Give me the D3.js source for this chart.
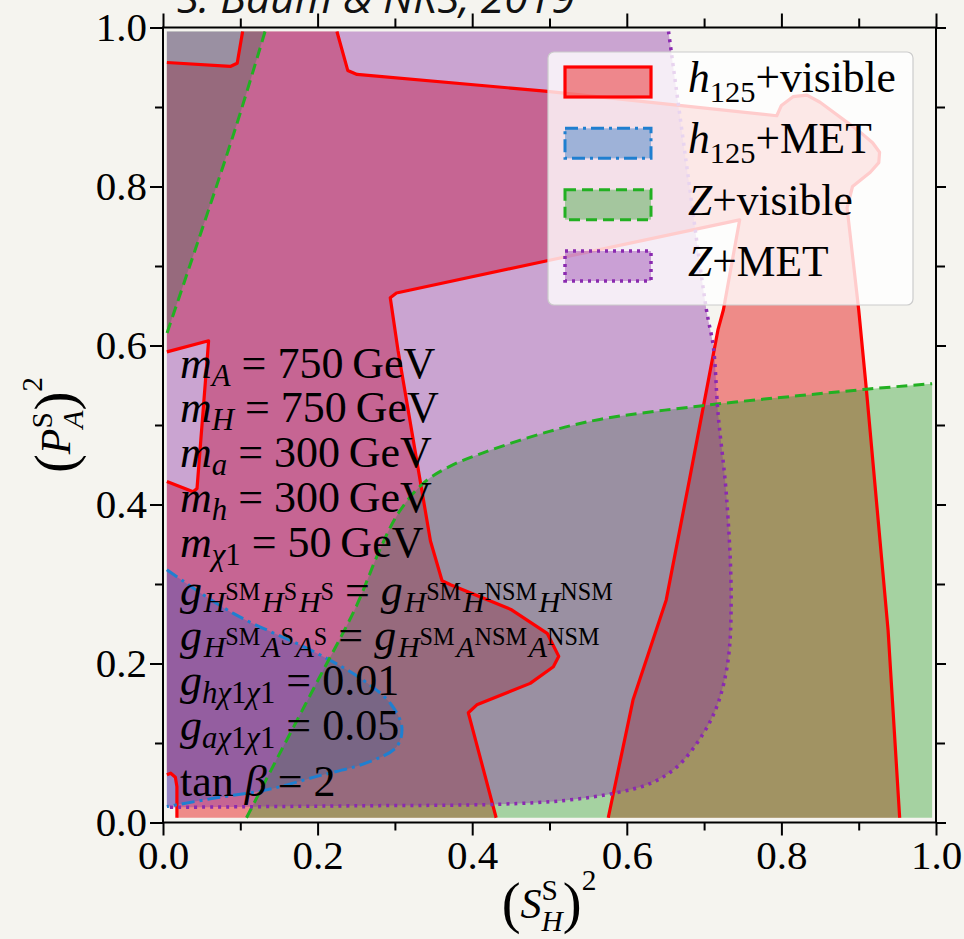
<!DOCTYPE html>
<html><head><meta charset="utf-8">
<script src="https://cdn.jsdelivr.net/npm/d3@7"></script>
<style>html,body{margin:0;padding:0;background:#f5f4ef;} svg{display:block} text{white-space:pre}</style>
</head><body><svg id="c" width="964" height="939"></svg>
<script>
// ---------- data ----------
const majorTicks = [0, 0.2, 0.4, 0.6, 0.8, 1.0];
const minorTicks = [0.1, 0.3, 0.5, 0.7, 0.9];
const tickLabels = ["0.0", "0.2", "0.4", "0.6", "0.8", "1.0"];

// h125 + visible (red) contour pieces, [x, y]
const redLineA = [[0.018,0.006],[0.018,0.045],[0.016,0.057],[0.010,0.062],[0.005,0.060]];
const redLineB = [[0.005,0.429],[0.039,0.416],[0.044,0.420],[0.059,0.606],[0.005,0.592]];
const redLineC = [[0.005,0.956],[0.087,0.951],[0.096,0.955],[0.103,0.995]];
const redLineD = [[0.225,0.995],[0.239,0.946],[0.251,0.941],[0.494,0.920],[0.794,0.889],[0.800,0.902],
  [0.815,0.913],[0.833,0.915],[0.850,0.906],[0.900,0.870],[0.918,0.855],[0.927,0.843],[0.926,0.830],
  [0.915,0.818],[0.892,0.800],[0.885,0.773],[0.900,0.645],[0.910,0.544],[0.938,0.242],[0.953,0.006]];
const redLineE = [[0.576,0.006],[0.608,0.154],[0.651,0.280],[0.681,0.431],[0.718,0.620],[0.725,0.645],
  [0.746,0.758],[0.494,0.706],[0.302,0.666],[0.294,0.660],[0.304,0.594],[0.346,0.354],[0.361,0.304],
  [0.372,0.299],[0.450,0.268],[0.497,0.238],[0.512,0.209],[0.505,0.196],[0.475,0.175],[0.406,0.148],
  [0.395,0.138],[0.431,0.006]];
// h125 + MET (blue)
const blueLine = [[0.005,0.318],[0.091,0.263],[0.199,0.213],[0.259,0.179],[0.294,0.150],[0.309,0.120],
  [0.302,0.095],[0.263,0.075],[0.199,0.058],[0.134,0.041],[0.069,0.031],[0.005,0.020]];
// Z + visible (green)
const greenLineA = [[0.132,0.995],[0.093,0.871],[0.005,0.615]];
const greenLineB = [[0.108,0.006],[0.150,0.085],[0.200,0.178],[0.250,0.272],[0.280,0.342],[0.305,0.390],
  [0.337,0.427],[0.371,0.448],[0.414,0.465],[0.500,0.492],[0.565,0.507],[0.695,0.524],[0.824,0.537],
  [0.910,0.545],[0.995,0.552]];
// Z + MET (purple)
const purpleLine = [[0.654,0.995],[0.680,0.808],[0.703,0.645],[0.712,0.598],[0.718,0.515],[0.729,0.410],
  [0.735,0.284],[0.731,0.204],[0.718,0.150],[0.699,0.112],[0.665,0.070],[0.630,0.049],[0.587,0.0375],
  [0.522,0.028],[0.436,0.023],[0.250,0.021],[0.005,0.019]];

const legendNames = ["h125+visible", "h125+MET", "Z+visible", "Z+MET"];

// ---------- setup ----------
const SERIF = "'Liberation Serif','Times New Roman',serif";
const svg = d3.select("#c");
const X0 = 163, X1 = 936, Y0 = 822.5, Y1 = 27.5;
const x = d3.scaleLinear().domain([0, 1]).range([X0, X1]);
const y = d3.scaleLinear().domain([0, 1]).range([Y0, Y1]);

svg.append("rect").attr("width", 964).attr("height", 939).attr("fill", "#f5f4ef");

svg.append("defs").append("clipPath").attr("id", "plotclip")
  .append("rect").attr("x", X0).attr("y", Y1).attr("width", X1 - X0).attr("height", Y0 - Y1);

const styles = {
  red:    {fill: "rgba(230,0,0,0.43)",     stroke: "#ff0000", dash: null,        w: 3.2},
  blue:   {fill: "rgba(31,110,190,0.40)",  stroke: "#1f7fd0", dash: "13,5,3,5",  w: 3},
  green:  {fill: "rgba(44,160,44,0.40)",   stroke: "#22b022", dash: "11,6",      w: 3},
  purple: {fill: "rgba(137,46,166,0.40)",  stroke: "#8a2ab0", dash: "3,5",       w: 3.5}
};

const lin = d3.line().x(d => x(d[0])).y(d => y(d[1]));
const smooth = d3.line().x(d => x(d[0])).y(d => y(d[1])).curve(d3.curveCatmullRom.alpha(0.5));
const corner = p => "L" + x(p[0]) + "," + y(p[1]);

const plot = svg.append("g").attr("clip-path", "url(#plotclip)");

// fills
const redFill = lin([...redLineD, ...redLineE, ...redLineA, ...redLineB, ...redLineC]) + "Z";
const blueFill = smooth(blueLine) + "Z";
const greenFillA = smooth(greenLineA) + corner([0.005, 0.995]) + "Z";
const greenFillB = smooth(greenLineB) + corner([0.995, 0.006]) + "Z";
const purpleFill = smooth(purpleLine) + corner([0.005, 0.995]) + "Z";

[[redFill, "red"], [blueFill, "blue"], [greenFillA, "green"], [greenFillB, "green"], [purpleFill, "purple"]]
  .forEach(([d, k]) => plot.append("path").attr("d", d).attr("fill", styles[k].fill).attr("stroke", "none"));

// contour lines
const lines = [
  [lin(redLineA), "red"], [lin(redLineB), "red"], [lin(redLineC), "red"], [lin(redLineD), "red"], [lin(redLineE), "red"],
  [smooth(blueLine), "blue"], [smooth(greenLineA), "green"], [smooth(greenLineB), "green"], [smooth(purpleLine), "purple"]
];
lines.forEach(([d, k]) => {
  const s = styles[k];
  plot.append("path").attr("d", d).attr("fill", "none").attr("stroke", s.stroke)
    .attr("stroke-width", s.w).attr("stroke-dasharray", s.dash).attr("stroke-linejoin", "round");
});

// ---------- math text helper ----------
function mathText(g, tx, ty, size, parts, anchor) {
  const t = g.append("text").attr("x", tx).attr("y", ty).attr("font-family", SERIF)
    .attr("font-size", size).attr("fill", "#000").attr("text-anchor", anchor || "start");
  let cur = 0, prevW = 0, pend = 0;
  parts.forEach(([txt, o]) => {
    o = o || {};
    const off = (o.o || 0) * size;
    const ts = t.append("tspan").text(txt).attr("font-size", size * (o.s || 1))
      .attr("font-style", o.i ? "italic" : "normal");
    ts.attr("dy", cur - off); cur = off;
    let dx = 0;
    if (o.back) dx = -prevW; else { dx = pend + (o.dx || 0) * size; pend = 0; }
    if (dx) ts.attr("dx", dx);
    const w = ts.node().getComputedTextLength();
    if (o.back) { pend = Math.max(0, prevW - w); }
    prevW = w;
  });
  return t;
}

// ---------- annotation ----------
const ann = svg.append("g");
const FS = 44;
const sub = {s: 0.7, o: -0.18};
const subI = {s: 0.7, o: -0.18, i: 1};
const subH = {s: 0.68, o: -0.16, i: 1, dx: 0.04};
const ssup = {s: 0.55, o: 0.12};
const annLines = [
  [378, [["m", {i: 1}], ["A", subI], [" = 750\u2009GeV"]]],
  [422, [["m", {i: 1}], ["H", subI], [" = 750\u2009GeV"]]],
  [467, [["m", {i: 1}], ["a", subI], [" = 300\u2009GeV"]]],
  [512, [["m", {i: 1}], ["h", subI], [" = 300\u2009GeV"]]],
  [557, [["m", {i: 1}], ["\u03c7", subI], ["1", sub], [" = 50\u2009GeV"]]],
  [605, [["g", {i: 1}], ["H", subH], ["SM", ssup], ["H", subH], ["S", ssup], ["H", subH], ["S", ssup],
         [" = "], ["g", {i: 1}], ["H", subH], ["SM", ssup], ["H", subH], ["NSM", ssup], ["H", subH], ["NSM", ssup]]],
  [650, [["g", {i: 1}], ["H", subH], ["SM", ssup], ["A", subH], ["S", ssup], ["A", subH], ["S", ssup],
         [" = "], ["g", {i: 1}], ["H", subH], ["SM", ssup], ["A", subH], ["NSM", ssup], ["A", subH], ["NSM", ssup]]],
  [695, [["g", {i: 1}], ["h\u03c7", subI], ["1", sub], ["\u03c7", subI], ["1", sub], [" = 0.01"]]],
  [740, [["g", {i: 1}], ["a\u03c7", subI], ["1", sub], ["\u03c7", subI], ["1", sub], [" = 0.05"]]],
  [796, [["tan "], ["\u03b2", {i: 1}], [" = 2"]]]
];
annLines.forEach(([by, parts]) => mathText(ann, 180, by, FS, parts));

// ---------- axes ----------
function styleAxis(g) {
  g.select(".domain").remove();
  g.selectAll(".tick line").attr("stroke", "#000").attr("stroke-width", 2);
  g.selectAll(".tick text").attr("font-family", SERIF).attr("font-size", 41).attr("fill", "#000");
}
const lab = (d, i) => tickLabels[i];
svg.append("g").attr("transform", `translate(0,${Y0})`)
  .call(d3.axisBottom(x).tickValues(majorTicks).tickSize(13).tickPadding(4).tickFormat(lab)).call(styleAxis);
svg.append("g").attr("transform", `translate(0,${Y0})`)
  .call(d3.axisBottom(x).tickValues(minorTicks).tickSize(8).tickFormat("")).call(styleAxis);
svg.append("g").attr("transform", `translate(${X0},0)`)
  .call(d3.axisLeft(y).tickValues(majorTicks).tickSize(13).tickPadding(3).tickFormat(lab)).call(styleAxis);
svg.append("g").attr("transform", `translate(${X0},0)`)
  .call(d3.axisLeft(y).tickValues(minorTicks).tickSize(8).tickFormat("")).call(styleAxis);
svg.append("g").attr("transform", `translate(0,${Y1})`)
  .call(d3.axisTop(x).tickValues(majorTicks).tickSize(14).tickFormat("")).call(styleAxis);
svg.append("g").attr("transform", `translate(0,${Y1})`)
  .call(d3.axisTop(x).tickValues(minorTicks).tickSize(9).tickFormat("")).call(styleAxis);
svg.append("g").attr("transform", `translate(${X1},0)`)
  .call(d3.axisRight(y).tickValues(majorTicks).tickSize(10).tickFormat("")).call(styleAxis);
svg.append("g").attr("transform", `translate(${X1},0)`)
  .call(d3.axisRight(y).tickValues(minorTicks).tickSize(9).tickFormat("")).call(styleAxis);

svg.append("rect").attr("x", X0).attr("y", Y1).attr("width", X1 - X0).attr("height", Y0 - Y1)
  .attr("fill", "none").attr("stroke", "#000").attr("stroke-width", 2);

// axis titles
mathText(svg, 549, 918, 42, [["(", {s: 1.35, o: -0.1}], ["S", {i: 1}], ["S", {s: 0.7, o: 0.42}],
  ["H", {i: 1, s: 0.7, o: -0.3, back: true}], [")", {s: 1.35, o: -0.1}], ["2", {s: 0.7, o: 0.66}]], "middle");
const yl = svg.append("g").attr("transform", "translate(70,425) rotate(-90)");
mathText(yl, 0, 0, 42, [["(", {s: 1.35, o: -0.1}], ["P", {i: 1}], ["S", {s: 0.7, o: 0.42}],
  ["A", {i: 1, s: 0.7, o: -0.3, back: true}], [")", {s: 1.35, o: -0.1}], ["2", {s: 0.7, o: 0.66}]], "middle");

// ---------- legend ----------
const leg = svg.append("g");
leg.append("rect").attr("x", 548).attr("y", 52).attr("width", 365).attr("height", 253).attr("rx", 6)
  .attr("fill", "rgba(255,255,255,0.8)").attr("stroke", "#cccccc").attr("stroke-width", 1.2);
const legKeys = ["red", "blue", "green", "purple"];
const legParts = [
  [["h", {i: 1}], ["125", {s: 0.7, o: -0.22}], ["+visible"]],
  [["h", {i: 1}], ["125", {s: 0.7, o: -0.22}], ["+MET"]],
  [["Z", {i: 1}], ["+visible"]],
  [["Z", {i: 1}], ["+MET"]]
];
const rowY = d3.scalePoint().domain(legendNames).range([82, 266]);
legendNames.forEach((nm, i) => {
  const s = styles[legKeys[i]];
  const cy = rowY(nm);
  leg.append("rect").attr("x", 565).attr("y", cy - 15).attr("width", 86).attr("height", 30)
    .attr("fill", s.fill).attr("stroke", s.stroke).attr("stroke-width", s.w).attr("stroke-dasharray", s.dash);
  mathText(leg, 688, cy + 10, 43.5, legParts[i]);
});

// ---------- title ----------
const title = svg.append("text").attr("x", 177).attr("y", 13).attr("font-family", "'Open Sans', sans-serif")
  .attr("font-style", "italic").attr("font-size", 40).attr("fill", "#111").text("S. Baum & NRS, 2019");
const tw = title.node().getComputedTextLength();
title.attr("font-size", 40 * 398 / tw);
</script></body></html>
